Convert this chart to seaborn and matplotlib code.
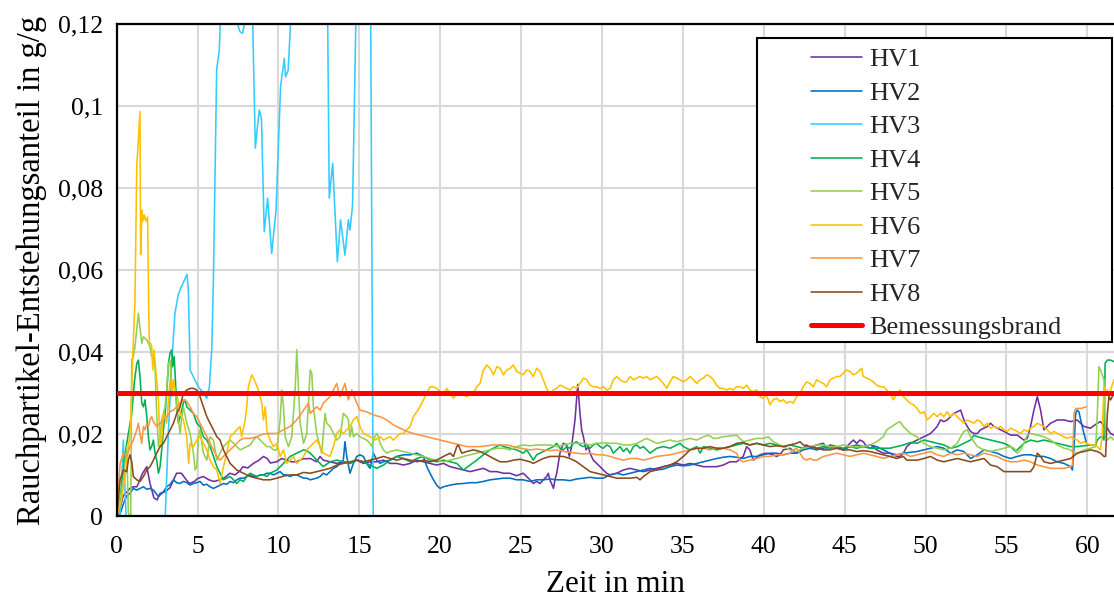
import matplotlib
matplotlib.use("Agg")
import matplotlib.pyplot as plt
from matplotlib.lines import Line2D
from matplotlib.patches import Rectangle
import seaborn as sns
import pandas as pd

# ---------------- data (minute, g/g) ----------------
HV1 = [(0.0,0.0),(0.2,0.002),(0.41,0.005),(0.82,0.0068),(1.03,0.0072),(1.25,0.0072),(1.6,0.0105),(1.86,0.0121),(2.06,0.008),(2.3,0.0045),(2.5,0.004),(2.68,0.0056),(3.0,0.006),(3.3,0.007),(3.7,0.0105),(4.0,0.0105),(4.3,0.0089),(4.5,0.008),(4.8,0.0085),(5.0,0.0092),(5.35,0.0097),(5.7,0.0089),(6.0,0.0085),(6.4,0.0089),(6.7,0.0095),(7.0,0.0105),(7.3,0.0101),(7.6,0.011),(7.8,0.0121),(8.1,0.0118),(8.45,0.0129),(8.8,0.0137),(9.07,0.0146),(9.3,0.0141),(9.5,0.013),(9.9,0.0133),(10.2,0.0141),(10.5,0.0137),(10.8,0.0133),(11.1,0.0133),(11.5,0.014),(11.96,0.0141),
       (12.36,0.0133),(12.57,0.0146),(12.77,0.0137),(13.19,0.0133),(13.6,0.0129),(14.01,0.0133),(14.42,0.0129),(14.84,0.0137),(15.25,0.0129),(15.66,0.0133),(16.07,0.0133),(16.49,0.0137),(16.9,0.0129),(17.31,0.0129),(17.72,0.0125),(18.14,0.0129),(18.55,0.0137),(18.96,0.0133),(19.37,0.0129),(19.78,0.0125),(20.2,0.0129),(20.61,0.0121),(21.02,0.0117),(21.43,0.0113),(21.85,0.0109),(22.26,0.0113),(22.67,0.0117),(23.08,0.0109),(23.5,0.0109),(23.91,0.0105),(24.31,0.0105),(24.72,0.0099),(25.13,0.0105),(25.34,0.0097),(25.55,0.0089),(25.75,0.008),(25.96,0.0085),(26.17,0.008),(26.37,0.0089),(26.58,0.0097),(26.68,0.0105),(26.78,0.0089),(27.0,0.0068),(27.09,0.0089),(27.2,0.0105),(27.4,0.0154),(27.61,0.0178),(27.81,0.0174),(27.98,0.0146),(28.12,0.017),(28.33,0.0235),(28.5,0.0322),(28.64,0.0251),(28.74,0.0211),(28.85,0.0194),(29.01,0.0162),(29.16,0.017),(29.26,0.0154),(29.46,0.0137),(29.67,0.0129),(29.88,0.0121),(30.08,0.0113),(30.29,0.0105),(30.5,0.0101),(30.91,0.0105),(31.32,0.0113),(31.73,0.0117),(32.15,0.0113),(32.56,0.0109),(32.97,0.0113),(33.38,0.0117),(33.79,0.0121),(34.21,0.0125),(34.62,0.0129),(35.03,0.0125),(35.44,0.0129),(35.86,0.0125),(36.27,0.0121),(36.68,0.0121),(37.09,0.0121),(37.49,0.0125),(37.91,0.0133),(38.32,0.0133),(38.73,0.0146),(38.94,0.017),(39.14,0.0162),(39.35,0.0137),(39.76,0.015),(40.17,0.0154),(40.58,0.015),(40.79,0.0146),(41.0,0.015),(41.21,0.0162),(41.62,0.0166),(42.03,0.0154),(42.44,0.0166),(42.65,0.0174),(42.86,0.0166),(43.27,0.0174),(43.68,0.0178),(43.89,0.0166),(44.09,0.0174),(44.51,0.017),(44.92,0.0162),(45.12,0.017),(45.33,0.0178),(45.54,0.0186),(45.74,0.0178),(45.95,0.0186),(46.15,0.0182),(46.36,0.017),(46.57,0.0166),(46.77,0.017),(46.98,0.0162),(47.19,0.0158),(47.39,0.0154),(47.8,0.0154),(48.22,0.0146),(48.42,0.0146),(48.63,0.0154),(48.84,0.017),(49.07,0.0178),(49.48,0.0186),(49.9,0.0194),(50.31,0.0202),(50.72,0.0219),(50.92,0.0235),(51.13,0.0231),(51.34,0.0235),(51.55,0.0243),(51.75,0.0251),(51.96,0.0255),(52.17,0.0259),(52.37,0.0235),(52.58,0.0219),(52.78,0.0207),(52.99,0.0202),(53.2,0.0202),(53.4,0.0211),(53.61,0.0215),(53.82,0.0219),(54.02,0.0227),(54.23,0.0219),(54.43,0.0215),(54.64,0.0211),(54.85,0.0207),(55.26,0.0198),(55.67,0.0198),(56.08,0.0186),(56.29,0.019),(56.49,0.0219),(56.7,0.0259),(56.91,0.0292),(57.11,0.0259),(57.32,0.0211),(57.52,0.0219),(57.73,0.0227),(57.94,0.0231),(58.14,0.0235),(58.56,0.0235),(58.97,0.0231),(59.38,0.0235),(59.79,0.0219),(60.2,0.0215),(60.62,0.0227),(60.82,0.0231),(61.03,0.0219),(61.24,0.0215),(61.44,0.0202),(61.65,0.0198)]

HV2 = [(0.0,0.0),(0.2,0.0005),(0.41,0.003),(0.62,0.005),(0.82,0.0056),(1.03,0.0068),(1.24,0.0064),(1.45,0.0068),(1.65,0.0072),(1.86,0.0066),(2.06,0.0068),(2.27,0.0064),(2.58,0.0048),(2.89,0.006),(3.09,0.0072),(3.3,0.0078),(3.5,0.0089),(3.71,0.0082),(3.91,0.008),(4.12,0.0085),(4.33,0.0082),(4.54,0.0076),(4.74,0.008),(4.95,0.0082),(5.15,0.0085),(5.36,0.0076),(5.57,0.0078),(5.77,0.0072),(5.98,0.0068),(6.19,0.0072),(6.39,0.0076),(6.6,0.008),(6.8,0.0078),(7.01,0.0085),(7.22,0.0082),(7.42,0.0089),(7.63,0.0093),(7.84,0.0093),(8.04,0.0097),(8.25,0.0101),(8.45,0.0097),(8.66,0.0097),(8.87,0.0101),(9.07,0.0101),(9.28,0.0105),(9.48,0.0105),(9.69,0.0101),(9.9,0.0105),(10.1,0.0109),(10.31,0.0101),(10.51,0.0101),(10.72,0.0097),(10.93,0.0101),(11.13,0.0101),(11.34,0.0097),(11.55,0.0093),(11.75,0.0093),(11.96,0.0089),
       (12.36,0.0093),(12.57,0.0097),(12.77,0.0105),(12.98,0.0101),(13.19,0.0109),(13.4,0.0117),(13.6,0.0121),(13.81,0.0129),(14.01,0.0137),(14.11,0.0182),(14.22,0.0146),(14.42,0.0105),(14.63,0.0129),(14.84,0.0146),(15.04,0.015),(15.25,0.0146),(15.45,0.0129),(15.66,0.0117),(15.87,0.0154),(16.07,0.0137),(16.28,0.0129),(16.49,0.0133),(16.9,0.0137),(17.31,0.0146),(17.72,0.015),(18.14,0.015),(18.55,0.0154),(18.96,0.0146),(19.17,0.0121),(19.37,0.0105),(19.58,0.0089),(19.78,0.0076),(19.99,0.0068),(20.2,0.0072),(20.61,0.0076),(21.02,0.0079),(21.43,0.008),(21.85,0.0082),(22.26,0.0082),(22.67,0.0085),(23.08,0.0089),(23.5,0.0091),(23.91,0.0093),(24.32,0.0093),(24.73,0.0089),(25.13,0.0089),(25.55,0.0085),(25.96,0.0089),(26.37,0.0089),(26.78,0.0091),(27.2,0.0089),(27.61,0.0089),(28.02,0.0087),(28.43,0.0091),(28.85,0.0093),(29.26,0.0095),(29.67,0.0093),(30.08,0.0093),(30.5,0.0101),(30.91,0.0105),(31.32,0.0101),(31.73,0.0105),(32.15,0.0109),(32.56,0.0113),(32.97,0.0117),(33.38,0.0113),(33.79,0.0115),(34.21,0.0121),(34.62,0.0125),(35.03,0.0123),(35.44,0.0125),(35.86,0.0129),(36.27,0.0133),(36.68,0.0137),(37.09,0.0141),(37.49,0.0144),(37.91,0.0146),(38.32,0.0144),(38.73,0.0141),(39.14,0.0146),(39.56,0.0146),(39.97,0.015),(40.38,0.0154),(40.79,0.0154),(41.21,0.015),(41.62,0.0154),(42.03,0.0154),(42.44,0.0162),(42.86,0.0166),(43.27,0.0162),(43.68,0.0166),(44.09,0.017),(44.51,0.0166),(44.92,0.0162),(45.33,0.017),(45.74,0.0174),(46.15,0.017),(46.57,0.0174),(46.98,0.017),(47.39,0.0162),(47.8,0.0154),(48.22,0.015),(48.63,0.0154),(49.07,0.0156),(49.48,0.0158),(49.9,0.0162),(50.31,0.0166),(50.72,0.017),(51.13,0.0166),(51.55,0.0154),(51.96,0.0162),(52.37,0.0158),(52.78,0.0141),(53.2,0.015),(53.61,0.0162),(54.02,0.0158),(54.43,0.0154),(54.85,0.0146),(55.26,0.0141),(55.67,0.0146),(56.08,0.015),(56.49,0.015),(56.91,0.0146),(57.32,0.0146),(57.73,0.0141),(58.14,0.0133),(58.56,0.0129),(58.97,0.0121),(59.08,0.0113),(59.18,0.017),(59.28,0.0251),(59.38,0.0259),(59.48,0.0255),(59.59,0.0235),(59.79,0.0202),(59.95,0.0178)]

HV3 = [(0.0,0.0),(0.2,0.0),(0.32,0.01),(0.41,0.0186),(0.5,0.008),(0.58,0.0),(3.0,0.0),(3.2,0.021),(3.4,0.037),(3.6,0.0495),(3.8,0.054),(4.0,0.056),(4.2,0.0577),(4.35,0.059),(4.43,0.055),(4.54,0.0357),(4.74,0.034),(5.05,0.0316),(5.36,0.03),(5.57,0.0288),(5.73,0.0316),(5.88,0.041),(5.98,0.058),(6.18,0.109),(6.34,0.1137),(6.45,0.125),(7.0,0.13),(7.4,0.121),(7.62,0.1182),(7.78,0.1178),(7.87,0.1195),(7.95,0.122),(8.1,0.13),(8.4,0.122),(8.57,0.0898),(8.7,0.095),(8.82,0.0991),(8.95,0.097),(9.12,0.0694),(9.33,0.0776),(9.58,0.0641),(9.85,0.0747),(10.13,0.1048),(10.36,0.1117),(10.44,0.1072),(10.6,0.1088),(10.77,0.122),(11.0,0.14),(12.8,0.14),(13.04,0.122),(13.14,0.0776),(13.35,0.0861),(13.64,0.0621),(13.84,0.0723),(14.11,0.0637),(14.32,0.0723),(14.42,0.0698),(14.58,0.0759),(14.79,0.122),(15.0,0.14),(15.55,0.14),(15.7,0.122),(15.86,0.0),(18.0,0.0)]

HV4 = [(0.0,0.0),(0.31,0.0072),(0.52,0.0154),(0.72,0.0202),(0.93,0.0251),(1.1,0.033),(1.24,0.0373),(1.34,0.0381),(1.44,0.0341),(1.55,0.0276),(1.65,0.0267),(1.75,0.0284),(1.86,0.0243),(1.96,0.0194),(2.06,0.0162),(2.16,0.017),(2.27,0.0186),(2.37,0.0154),(2.47,0.0137),(2.58,0.0105),(2.68,0.0121),(2.78,0.0162),(2.89,0.0211),(2.99,0.0251),(3.09,0.03),(3.2,0.0373),(3.3,0.0398),(3.4,0.0406),(3.46,0.0365),(3.55,0.039),(3.63,0.0333),(3.71,0.0267),(3.81,0.0227),(3.92,0.0243),(4.02,0.0259),(4.12,0.0276),(4.23,0.0284),(4.33,0.0267),(4.54,0.0259),(4.74,0.0251),(4.95,0.0227),(5.15,0.0219),(5.36,0.0194),(5.57,0.0186),(5.77,0.017),(5.98,0.0146),(6.19,0.0121),(6.39,0.0105),(6.6,0.0089),(6.8,0.0093),(7.01,0.0097),(7.22,0.0089),(7.42,0.008),(7.63,0.0089),(7.84,0.0085),(8.04,0.0097),(8.25,0.0105),(8.45,0.0101),(8.66,0.0097),(8.87,0.0101),(9.07,0.0101),(9.28,0.0097),(9.48,0.0105),(9.69,0.0109),(9.9,0.0113),(10.1,0.0121),(10.31,0.0129),(10.51,0.0137),(10.72,0.0146),(10.93,0.015),(11.13,0.0154),(11.34,0.0158),(11.55,0.0162),(11.75,0.016),(11.96,0.0154),(12.16,0.0146),(12.37,0.0137),(12.57,0.0129),(12.77,0.0121),(13.19,0.0133),(13.6,0.0137),(14.01,0.0133),(14.42,0.0129),(14.84,0.0137),(15.25,0.0133),(15.66,0.0125),(16.07,0.0117),(16.49,0.0125),(16.9,0.0137),(17.31,0.0146),(17.72,0.0141),(18.14,0.0133),(18.55,0.0141),(18.96,0.0146),(19.37,0.0137),(19.78,0.0133),(20.2,0.0137),(20.61,0.0133),(21.02,0.0129),(21.43,0.0113),(21.85,0.0125),(22.26,0.0137),(22.67,0.015),(23.08,0.0162),(23.5,0.017),(23.7,0.0174),(23.91,0.017),(24.32,0.0166),(24.73,0.0162),(25.13,0.0154),(25.34,0.0162),(25.55,0.015),(25.75,0.0137),(25.96,0.015),(26.17,0.0154),(26.37,0.0158),(26.58,0.0162),(26.78,0.0166),(26.99,0.017),(27.2,0.0178),(27.4,0.0166),(27.61,0.0162),(27.81,0.017),(28.02,0.0166),(28.23,0.0178),(28.43,0.0182),(28.64,0.0174),(28.85,0.017),(29.05,0.0174),(29.26,0.0166),(29.46,0.0174),(29.67,0.0178),(29.88,0.017),(30.08,0.0166),(30.29,0.0174),(30.5,0.017),(30.7,0.0154),(30.91,0.0162),(31.12,0.017),(31.32,0.0158),(31.53,0.0166),(31.73,0.0154),(31.94,0.017),(32.15,0.0174),(32.35,0.0166),(32.56,0.017),(32.97,0.0154),(33.38,0.0166),(33.79,0.017),(34.21,0.0166),(34.62,0.0174),(34.82,0.0178),(35.03,0.017),(35.44,0.0162),(35.86,0.017),(36.07,0.0154),(36.27,0.017),(36.68,0.0166),(37.09,0.0162),(37.49,0.0166),(37.91,0.017),(38.32,0.0174),(38.73,0.0178),(39.14,0.0174),(39.56,0.0178),(39.97,0.0174),(40.38,0.0178),(40.79,0.0174),(41.21,0.017),(41.62,0.0174),(42.03,0.017),(42.44,0.0166),(42.86,0.017),(43.27,0.0166),(43.68,0.017),(44.09,0.0166),(44.51,0.017),(44.92,0.0166),(45.33,0.017),(45.74,0.0166),(46.15,0.017),(46.57,0.0166),(46.98,0.0166),(47.39,0.0166),(47.8,0.0166),(48.22,0.017),(48.63,0.0174),(49.07,0.018),(49.48,0.0178),(49.9,0.0186),(50.31,0.0182),(50.72,0.0178),(51.13,0.0174),(51.55,0.0166),(51.96,0.017),(52.37,0.0178),(52.78,0.0186),(52.99,0.0198),(53.2,0.0194),(53.61,0.019),(54.02,0.0186),(54.43,0.0182),(54.85,0.0178),(55.26,0.017),(55.57,0.0158),(55.88,0.017),(56.08,0.0178),(56.49,0.0186),(56.91,0.0182),(57.32,0.0186),(57.73,0.0182),(58.14,0.0178),(58.56,0.0174),(58.97,0.017),(59.38,0.017),(59.79,0.0172),(60.2,0.0174),(60.52,0.0174),(60.62,0.0186),(60.82,0.0194),(60.93,0.0194),(61.03,0.0186),(61.1,0.0373),(61.24,0.0381),(61.44,0.0381),(61.65,0.0377)]

HV5 = [(0.0,0.0),(0.41,0.0089),(0.62,0.017),(0.72,0.0007),(0.87,0.0),(0.93,0.0381),(1.03,0.039),(1.13,0.0414),(1.34,0.0495),(1.55,0.0422),(1.65,0.0438),(1.86,0.043),(2.06,0.0414),(2.16,0.039),(2.27,0.039),(2.37,0.0365),(2.47,0.0251),(2.58,0.017),(2.68,0.0194),(2.78,0.0235),(2.89,0.0251),(2.99,0.0267),(3.09,0.0308),(3.2,0.0373),(3.3,0.0381),(3.4,0.0292),(3.51,0.0333),(3.61,0.0308),(3.71,0.0267),(3.81,0.0235),(3.92,0.0202),(4.02,0.0243),(4.12,0.0267),(4.33,0.0227),(4.54,0.0202),(4.74,0.0154),(4.85,0.0113),(4.95,0.0121),(5.05,0.0194),(5.15,0.0211),(5.36,0.0154),(5.57,0.0137),(5.77,0.0194),(5.98,0.0186),(6.19,0.0137),(6.39,0.0154),(6.6,0.017),(6.8,0.0178),(7.01,0.0186),(7.22,0.0178),(7.42,0.017),(7.63,0.0162),(7.84,0.0166),(8.04,0.017),(8.25,0.0174),(8.45,0.0186),(8.66,0.0194),(8.87,0.0186),(9.07,0.0178),(9.28,0.017),(9.48,0.017),(9.69,0.0162),(9.9,0.0162),(10.1,0.0235),(10.21,0.0308),(10.31,0.0267),(10.41,0.0194),(10.62,0.017),(10.82,0.0194),(11.03,0.0308),(11.13,0.0406),(11.24,0.0308),(11.34,0.0227),(11.55,0.0178),(11.75,0.0202),(11.96,0.0357),(12.06,0.0349),(12.16,0.0267),(12.36,0.0202),(12.57,0.017),(12.67,0.0154),(12.88,0.0251),(12.98,0.0227),(13.19,0.0219),(13.4,0.0202),(13.6,0.0186),(13.81,0.0194),(14.01,0.0251),(14.22,0.0243),(14.32,0.0235),(14.42,0.0194),(14.53,0.0219),(14.63,0.0194),(14.84,0.0202),(15.04,0.0194),(15.25,0.019),(15.45,0.0186),(15.66,0.0178),(15.77,0.017),(15.87,0.0186),(16.07,0.0202),(16.18,0.0194),(16.28,0.0178),(16.49,0.0162),(16.69,0.0154),(16.9,0.0158),(17.31,0.0162),(17.72,0.0158),(18.14,0.0154),(18.55,0.015),(18.96,0.0146),(19.37,0.0141),(19.78,0.0137),(20.2,0.0133),(20.61,0.0137),(21.02,0.0141),(21.43,0.0146),(21.85,0.015),(22.26,0.0154),(22.67,0.0158),(23.08,0.0162),(23.5,0.0166),(23.91,0.0166),(24.32,0.0162),(24.73,0.017),(25.13,0.0174),(25.55,0.0172),(25.96,0.0174),(26.37,0.0174),(26.78,0.0174),(27.2,0.017),(27.61,0.0174),(28.02,0.0178),(28.43,0.0178),(28.85,0.0178),(29.26,0.0174),(29.67,0.0178),(30.08,0.0179),(30.5,0.0178),(30.91,0.0178),(31.32,0.0174),(31.73,0.0174),(32.15,0.0178),(32.56,0.0186),(32.76,0.019),(32.97,0.0186),(33.38,0.0178),(33.79,0.0182),(34.21,0.0186),(34.62,0.0182),(35.03,0.0186),(35.44,0.019),(35.86,0.0186),(36.27,0.0194),(36.58,0.0198),(36.89,0.019),(37.09,0.019),(37.49,0.0194),(37.91,0.0196),(38.32,0.0198),(38.52,0.019),(38.73,0.0182),(39.14,0.0186),(39.56,0.019),(39.97,0.019),(40.28,0.0194),(40.58,0.0182),(40.79,0.0178),(41.21,0.017),(41.62,0.0162),(42.03,0.0158),(42.44,0.0166),(42.86,0.017),(43.27,0.0174),(43.68,0.0174),(44.09,0.017),(44.51,0.017),(44.92,0.0174),(45.33,0.017),(45.74,0.017),(46.15,0.017),(46.57,0.0174),(46.98,0.0182),(47.39,0.0194),(47.6,0.0211),(47.91,0.0219),(48.22,0.0227),(48.42,0.0231),(48.63,0.0219),(49.07,0.0202),(49.48,0.0194),(49.9,0.0178),(50.31,0.017),(50.72,0.0166),(51.13,0.0162),(51.55,0.0166),(51.96,0.0178),(52.17,0.0194),(52.37,0.0207),(52.58,0.0211),(52.78,0.0194),(53.2,0.017),(53.61,0.0162),(54.02,0.0158),(54.43,0.0162),(54.85,0.0166),(55.26,0.017),(55.47,0.0166),(55.67,0.0154),(55.88,0.0162),(56.08,0.0178),(56.29,0.0198),(56.49,0.0202),(56.91,0.0198),(57.32,0.0194),(57.73,0.0186),(58.14,0.0174),(58.56,0.0166),(58.97,0.0162),(59.18,0.0154),(59.38,0.0154),(59.79,0.0162),(60.2,0.0166),(60.52,0.017),(60.62,0.0251),(60.72,0.0365),(60.82,0.0357),(61.03,0.0333),(61.13,0.0194),(61.24,0.0186),(61.44,0.0194),(61.65,0.0186)]

HV6 = [(0.0,0.0),(0.3,0.004),(0.6,0.012),(0.85,0.022),(1.0,0.04),(1.13,0.0528),(1.24,0.0853),(1.44,0.0987),(1.48,0.0638),(1.56,0.0747),(1.62,0.072),(1.7,0.0735),(1.8,0.072),(1.91,0.073),(1.98,0.05),(2.02,0.0422),(2.1,0.0422),(2.16,0.0414),(2.23,0.0357),(2.31,0.0406),(2.43,0.0349),(2.58,0.0284),(2.68,0.017),(2.78,0.0186),(2.89,0.0251),(3.09,0.0227),(3.3,0.0333),(3.4,0.0308),(3.51,0.0333),(3.61,0.03),(3.71,0.03),(3.92,0.0251),(4.12,0.0235),(4.33,0.0194),(4.45,0.0129),(4.54,0.0178),(4.74,0.017),(4.95,0.0186),(5.15,0.0194),(5.36,0.0178),(5.57,0.0162),(5.77,0.0137),(5.98,0.0121),(6.19,0.0113),(6.39,0.008),(6.6,0.0121),(6.8,0.0154),(7.01,0.0194),(7.22,0.0202),(7.42,0.0211),(7.63,0.0219),(7.73,0.0194),(7.94,0.0235),(8.04,0.0267),(8.14,0.0316),(8.35,0.0345),(8.56,0.0328),(8.76,0.0308),(8.97,0.0276),(9.07,0.0235),(9.18,0.0267),(9.28,0.0211),(9.48,0.0186),(9.69,0.017),(9.9,0.0178),(10.1,0.0146),(10.31,0.0162),(10.51,0.0129),(10.72,0.0137),(10.93,0.0146),(11.13,0.0129),(11.34,0.0137),(11.55,0.0146),(11.75,0.0162),(11.96,0.017),(12.16,0.0178),(12.37,0.0186),(12.57,0.017),(12.77,0.0154),(13.19,0.0146),(13.4,0.017),(13.6,0.0202),(13.81,0.0211),(14.01,0.0202),(14.22,0.0211),(14.42,0.0219),(14.63,0.0235),(14.84,0.0243),(15.04,0.0219),(15.25,0.0202),(15.66,0.0194),(15.97,0.0186),(16.28,0.0194),(16.49,0.0186),(16.69,0.019),(16.9,0.0194),(17.1,0.0186),(17.31,0.0194),(17.52,0.0202),(17.72,0.0202),(17.93,0.0211),(18.14,0.0219),(18.34,0.0243),(18.55,0.0255),(18.75,0.0267),(18.96,0.0284),(19.17,0.03),(19.37,0.0316),(19.58,0.0316),(19.78,0.0312),(19.99,0.0304),(20.2,0.03),(20.4,0.0312),(20.61,0.03),(20.82,0.0288),(21.02,0.03),(21.23,0.0296),(21.43,0.0296),(21.64,0.0292),(21.85,0.0296),(22.05,0.03),(22.26,0.0316),(22.46,0.0324),(22.67,0.0357),(22.88,0.0369),(23.08,0.0361),(23.29,0.0345),(23.5,0.0365),(23.7,0.0361),(23.91,0.0345),(24.11,0.0357),(24.32,0.0361),(24.53,0.0369),(24.73,0.0353),(25.13,0.0345),(25.34,0.0357),(25.55,0.0353),(25.75,0.0341),(25.96,0.0361),(26.17,0.0353),(26.37,0.0333),(26.58,0.0312),(26.78,0.0296),(26.99,0.0308),(27.2,0.0312),(27.4,0.032),(27.61,0.0316),(27.81,0.0312),(28.02,0.0308),(28.23,0.0316),(28.43,0.0312),(28.64,0.0324),(28.85,0.0337),(29.05,0.0333),(29.26,0.032),(29.46,0.0316),(29.67,0.0316),(29.88,0.0312),(30.08,0.0316),(30.29,0.0308),(30.5,0.0312),(30.7,0.0333),(30.91,0.0341),(31.12,0.0333),(31.32,0.0328),(31.53,0.0328),(31.73,0.0341),(31.94,0.0333),(32.15,0.0337),(32.35,0.0341),(32.56,0.0337),(32.76,0.0341),(32.97,0.0333),(33.17,0.0337),(33.38,0.0341),(33.59,0.0333),(33.79,0.0324),(34.0,0.0312),(34.21,0.0328),(34.41,0.0341),(34.62,0.0337),(34.82,0.0333),(35.03,0.0328),(35.24,0.0333),(35.44,0.0341),(35.65,0.0333),(35.86,0.0324),(36.06,0.0333),(36.27,0.0337),(36.47,0.0345),(36.68,0.0341),(36.88,0.0333),(37.08,0.032),(37.29,0.0312),(37.49,0.0312),(37.7,0.0308),(37.91,0.0312),(38.11,0.0308),(38.32,0.0316),(38.52,0.0316),(38.73,0.0312),(38.94,0.032),(39.14,0.0308),(39.35,0.0304),(39.56,0.0308),(39.76,0.0292),(39.97,0.0288),(40.17,0.0296),(40.38,0.0272),(40.59,0.0284),(40.79,0.0288),(41.0,0.028),(41.21,0.0284),(41.41,0.0276),(41.62,0.028),(41.82,0.0276),(42.03,0.0292),(42.24,0.03),(42.44,0.0316),(42.65,0.0328),(42.86,0.0324),(43.06,0.0316),(43.27,0.0333),(43.47,0.0328),(43.68,0.0324),(43.89,0.0316),(44.09,0.0333),(44.3,0.0337),(44.51,0.0341),(44.71,0.0341),(44.92,0.0349),(45.12,0.0357),(45.33,0.0353),(45.54,0.0345),(45.74,0.0349),(45.95,0.0357),(46.05,0.0361),(46.15,0.0341),(46.36,0.0337),(46.57,0.0333),(46.77,0.0328),(46.98,0.032),(47.19,0.0316),(47.39,0.0316),(47.6,0.0308),(47.8,0.03),(48.01,0.0284),(48.22,0.03),(48.42,0.0308),(48.63,0.0292),(48.84,0.0284),(49.04,0.0276),(49.25,0.0272),(49.48,0.0263),(49.69,0.0251),(49.9,0.0255),(50.1,0.0235),(50.31,0.0243),(50.51,0.0251),(50.72,0.0243),(50.92,0.0251),(51.13,0.0243),(51.34,0.0255),(51.55,0.0243),(51.75,0.0251),(51.96,0.0243),(52.17,0.0235),(52.37,0.0227),(52.58,0.0235),(52.78,0.0231),(52.99,0.0227),(53.2,0.0235),(53.4,0.0231),(53.61,0.0219),(53.82,0.0227),(54.02,0.0215),(54.23,0.0219),(54.43,0.0215),(54.64,0.0219),(54.85,0.0211),(55.05,0.0207),(55.26,0.0215),(55.47,0.0211),(55.67,0.0207),(55.88,0.0202),(56.08,0.0211),(56.29,0.0207),(56.49,0.0215),(56.7,0.0219),(56.91,0.0227),(57.11,0.0223),(57.32,0.0219),(57.52,0.0211),(57.73,0.0202),(57.94,0.0207),(58.14,0.0202),(58.35,0.0198),(58.56,0.0194),(58.76,0.019),(58.97,0.0194),(59.18,0.019),(59.38,0.0186),(59.59,0.0178),(59.79,0.0182),(60.0,0.0178),(60.2,0.0174),(60.41,0.0174),(60.62,0.017),(60.82,0.0162),(60.92,0.0202),(61.03,0.0316),(61.13,0.03),(61.24,0.0308),(61.34,0.0292),(61.44,0.0308),(61.65,0.0333)]

HV7 = [(0.0,0.0),(0.21,0.0129),(0.41,0.0154),(0.62,0.0146),(0.82,0.017),(1.03,0.0186),(1.24,0.0211),(1.34,0.0227),(1.44,0.0202),(1.55,0.0178),(1.65,0.0219),(1.75,0.0211),(1.86,0.0227),(1.96,0.0219),(2.06,0.0235),(2.16,0.0243),(2.27,0.0231),(2.47,0.0219),(2.68,0.0227),(2.89,0.0235),(3.09,0.0243),(3.3,0.0255),(3.51,0.0259),(3.71,0.0267),(3.92,0.0276),(4.12,0.0284),(4.33,0.028),(4.54,0.0267),(4.74,0.0251),(4.95,0.0243),(5.15,0.0227),(5.36,0.0211),(5.57,0.0194),(5.77,0.0178),(5.98,0.0162),(6.19,0.0146),(6.39,0.0137),(6.6,0.0146),(6.8,0.0154),(7.01,0.0162),(7.22,0.017),(7.42,0.0178),(7.63,0.0186),(7.84,0.019),(8.25,0.019),(8.66,0.0194),(9.07,0.0201),(9.48,0.0202),(9.9,0.0202),(10.31,0.0211),(10.72,0.0219),(11.13,0.0235),(11.55,0.0259),(11.86,0.0276),(11.96,0.0251),(12.16,0.0259),(12.37,0.0267),(12.58,0.0259),(12.77,0.0276),(13.19,0.0292),(13.6,0.0324),(13.8,0.0292),(14.11,0.0324),(14.32,0.0284),(14.53,0.0308),(14.84,0.0276),(15.04,0.0259),(15.45,0.0255),(15.87,0.0247),(16.28,0.0243),(16.69,0.0235),(17.1,0.0223),(17.52,0.0215),(17.93,0.0207),(18.34,0.0202),(18.75,0.0198),(19.17,0.0194),(19.58,0.019),(19.99,0.0186),(20.4,0.0182),(20.82,0.0178),(21.23,0.0174),(21.64,0.017),(22.05,0.017),(22.46,0.017),(22.88,0.0172),(23.29,0.0174),(23.7,0.0174),(24.11,0.0174),(24.53,0.017),(24.94,0.0166),(25.55,0.0162),(25.96,0.0164),(26.37,0.0162),(26.78,0.016),(27.2,0.0162),(27.61,0.0158),(28.02,0.0156),(28.43,0.0154),(28.85,0.0152),(29.26,0.0154),(29.67,0.015),(30.08,0.015),(30.5,0.0146),(30.91,0.0141),(31.32,0.0137),(31.73,0.0141),(32.15,0.0141),(32.56,0.0137),(32.97,0.0141),(33.38,0.0146),(33.79,0.0148),(34.21,0.015),(34.62,0.0154),(35.03,0.0158),(35.44,0.0162),(35.86,0.0166),(36.27,0.0166),(36.68,0.0162),(37.09,0.0166),(37.49,0.0166),(37.91,0.0162),(38.32,0.0154),(38.52,0.0137),(38.73,0.0133),(39.14,0.0137),(39.56,0.0141),(39.97,0.0146),(40.38,0.0146),(40.79,0.015),(41.21,0.015),(41.62,0.0154),(41.82,0.0162),(42.03,0.0166),(42.24,0.0154),(42.44,0.0141),(42.65,0.0137),(42.86,0.0141),(43.06,0.0137),(43.27,0.0137),(43.68,0.0146),(44.09,0.015),(44.51,0.0154),(44.92,0.015),(45.33,0.0146),(45.74,0.015),(46.15,0.0154),(46.57,0.015),(46.98,0.0146),(47.39,0.0141),(47.8,0.0146),(48.22,0.015),(48.63,0.0154),(49.07,0.0146),(49.48,0.015),(49.9,0.0154),(50.31,0.0158),(50.72,0.015),(51.13,0.0146),(51.55,0.0154),(51.96,0.015),(52.37,0.0154),(52.78,0.015),(53.2,0.0146),(53.61,0.0154),(54.02,0.015),(54.43,0.0146),(54.85,0.0137),(55.26,0.0133),(55.67,0.0133),(56.08,0.0137),(56.49,0.0133),(56.91,0.0125),(57.32,0.0121),(57.73,0.0117),(58.14,0.0117),(58.56,0.0117),(58.97,0.0121),(59.08,0.0125),(59.18,0.0251),(59.28,0.0263),(59.59,0.0263),(59.95,0.0267)]

HV8 = [(0.0,0.0),(0.21,0.0089),(0.41,0.0113),(0.62,0.0109),(0.72,0.0137),(0.82,0.015),(0.93,0.0133),(1.03,0.0097),(1.24,0.0089),(1.44,0.0085),(1.65,0.0097),(1.86,0.0113),(2.06,0.0121),(2.27,0.0137),(2.47,0.0154),(2.68,0.017),(2.89,0.0178),(3.09,0.0194),(3.3,0.0211),(3.51,0.0227),(3.71,0.0251),(3.92,0.0267),(4.12,0.03),(4.33,0.0308),(4.54,0.0312),(4.74,0.0312),(4.95,0.0308),(5.15,0.0292),(5.36,0.0267),(5.57,0.0243),(5.77,0.0227),(5.98,0.0211),(6.19,0.0194),(6.39,0.0186),(6.6,0.0162),(6.8,0.0146),(7.01,0.0129),(7.22,0.0121),(7.42,0.0113),(7.63,0.0109),(7.84,0.0105),(8.04,0.0101),(8.25,0.0097),(8.66,0.0093),(9.07,0.0089),(9.48,0.0089),(9.9,0.0093),(10.31,0.0098),(10.72,0.0101),(11.13,0.0101),(11.55,0.0107),(11.96,0.0105),(12.37,0.0109),(12.77,0.0113),(13.19,0.0117),(13.6,0.0125),(14.01,0.0129),(14.42,0.0133),(14.84,0.0137),(15.25,0.0133),(15.66,0.0137),(16.07,0.0141),(16.49,0.0146),(16.9,0.0141),(17.31,0.0137),(17.72,0.0141),(18.14,0.0137),(18.55,0.0133),(18.96,0.0137),(19.37,0.0133),(19.78,0.0137),(20.2,0.0146),(20.61,0.0154),(20.82,0.0146),(21.02,0.017),(21.12,0.0174),(21.33,0.0154),(21.64,0.0158),(22.05,0.0162),(22.46,0.0158),(22.88,0.015),(23.29,0.0141),(23.7,0.0133),(24.11,0.0133),(24.53,0.0137),(24.94,0.0139),(25.55,0.0133),(25.75,0.0129),(25.96,0.0133),(26.37,0.0141),(26.78,0.0146),(27.2,0.0146),(27.61,0.0146),(28.02,0.0141),(28.43,0.0133),(28.85,0.0121),(29.26,0.0109),(29.67,0.0105),(30.08,0.0101),(30.5,0.0097),(30.91,0.0093),(31.32,0.0093),(31.73,0.0093),(32.15,0.0095),(32.35,0.0089),(32.56,0.0097),(32.97,0.0109),(33.38,0.0113),(33.79,0.0121),(34.21,0.0125),(34.62,0.0133),(35.03,0.0146),(35.44,0.0162),(35.86,0.0166),(36.27,0.0166),(36.68,0.017),(37.09,0.0166),(37.49,0.0166),(37.91,0.017),(38.32,0.0178),(38.73,0.018),(39.14,0.0174),(39.56,0.0178),(39.97,0.0174),(40.38,0.017),(40.79,0.0172),(41.21,0.017),(41.62,0.0174),(42.03,0.0178),(42.24,0.0182),(42.44,0.0174),(42.86,0.017),(43.27,0.0166),(43.68,0.0162),(44.09,0.0162),(44.51,0.0166),(44.92,0.0162),(45.33,0.0162),(45.74,0.0158),(46.15,0.016),(46.57,0.0158),(46.98,0.0154),(47.39,0.015),(47.8,0.0146),(48.22,0.0141),(48.63,0.0146),(48.84,0.0137),(49.07,0.0137),(49.48,0.0137),(49.9,0.0141),(50.31,0.0146),(50.72,0.0137),(51.13,0.0133),(51.55,0.0137),(51.96,0.0141),(52.37,0.0137),(52.78,0.0133),(53.2,0.0137),(53.61,0.0141),(53.82,0.0133),(54.02,0.0125),(54.43,0.0121),(54.85,0.0109),(55.26,0.0109),(55.67,0.0109),(56.08,0.0109),(56.49,0.0109),(56.7,0.0121),(56.91,0.0154),(57.11,0.0146),(57.32,0.0133),(57.73,0.0129),(58.14,0.0133),(58.56,0.0137),(58.97,0.0141),(59.38,0.0154),(59.79,0.0158),(60.2,0.0162),(60.62,0.0158),(60.82,0.0154),(61.03,0.0146),(61.13,0.0146),(61.24,0.0251),(61.34,0.0292),(61.44,0.0284),(61.65,0.03)]

SERIES_NAMES = ["HV1", "HV2", "HV3", "HV4", "HV5", "HV6", "HV7", "HV8"]
SERIES_DATA = [HV1, HV2, HV3, HV4, HV5, HV6, HV7, HV8]
BEMESSUNG = 0.03
BEMESSUNG_LABEL = "Bemessungsbrand"
X_TICKS = [0, 5, 10, 15, 20, 25, 30, 35, 40, 45, 50, 55, 60]
Y_TICKS = [0, 0.02, 0.04, 0.06, 0.08, 0.10, 0.12]
X_LABEL = "Zeit in min"
Y_LABEL = "Rauchpartikel-Entstehungsanteil in g/g"

COLORS = {"HV1": "#7030A0", "HV2": "#0070C0", "HV3": "#33CCFF", "HV4": "#00B050",
          "HV5": "#92D050", "HV6": "#FFC000", "HV7": "#F79646", "HV8": "#8B4A1C"}

# ---------------- long-form frame ----------------
rows = []
for name, data in zip(SERIES_NAMES, SERIES_DATA):
    for t, v in data:
        rows.append({"t": t, "v": v, "series": name})
df = pd.DataFrame(rows)

sns.set_theme(style="white")
plt.rcParams["font.family"] = ["Liberation Serif", "DejaVu Serif"]

W, H = 1114, 602
fig = plt.figure(figsize=(W / 100, H / 100), dpi=100)
ax = fig.add_axes([116.7 / W, 85.7 / H, (W - 116.7) / W, 492 / H])

sns.lineplot(data=df, x="t", y="v", hue="series", hue_order=SERIES_NAMES,
             palette=COLORS, estimator=None, sort=False, linewidth=1.15,
             legend=False, ax=ax)
ax.axhline(BEMESSUNG, color="#FF0000", linewidth=3.6, zorder=4)

ax.set_xlim(0, 61.65)
ax.set_ylim(0, 0.12)
ax.set_xticks(X_TICKS)
ax.set_yticks(Y_TICKS)
ax.set_xticklabels([str(x) for x in X_TICKS])
ax.set_yticklabels([("%g" % y).replace(".", ",") for y in Y_TICKS])
ax.tick_params(axis="both", length=0, labelsize=18.5, colors="black")
ax.tick_params(axis="x", pad=14)
ax.tick_params(axis="y", pad=10)

ax.grid(True, color="#D9D9D9", linewidth=1.5)
ax.set_axisbelow(True)
for side in ["left", "bottom", "top"]:
    ax.spines[side].set_visible(True)
    ax.spines[side].set_color("black")
    ax.spines[side].set_linewidth(1.6)
ax.spines["right"].set_visible(False)

ax.set_xlabel(X_LABEL, fontsize=22.5, labelpad=9, color="black")
ax.set_ylabel(Y_LABEL, fontsize=23.5, labelpad=8, color="black")

# legend with an Excel-like box
box = Rectangle((757 / W, 1 - 342 / H), 355 / W, 304 / H, transform=fig.transFigure,
                facecolor="white", edgecolor="black", linewidth=1.5, zorder=8, clip_on=False)
ax.add_patch(box)
handles = [Line2D([0], [0], color=COLORS[n], linewidth=1.15) for n in SERIES_NAMES]
handles.append(Line2D([0], [0], color="#FF0000", linewidth=3.6))
labels = SERIES_NAMES + [BEMESSUNG_LABEL]
leg = ax.legend(handles, labels, loc="upper left", bbox_to_anchor=(811 / W, 1 - 48 / H),
                bbox_transform=fig.transFigure, frameon=False, fontsize=19,
                handlelength=1.95, handletextpad=0.25, labelspacing=0.38,
                borderpad=0, borderaxespad=0)
leg.set_zorder(10)

fig.savefig("out.png", dpi=100)
